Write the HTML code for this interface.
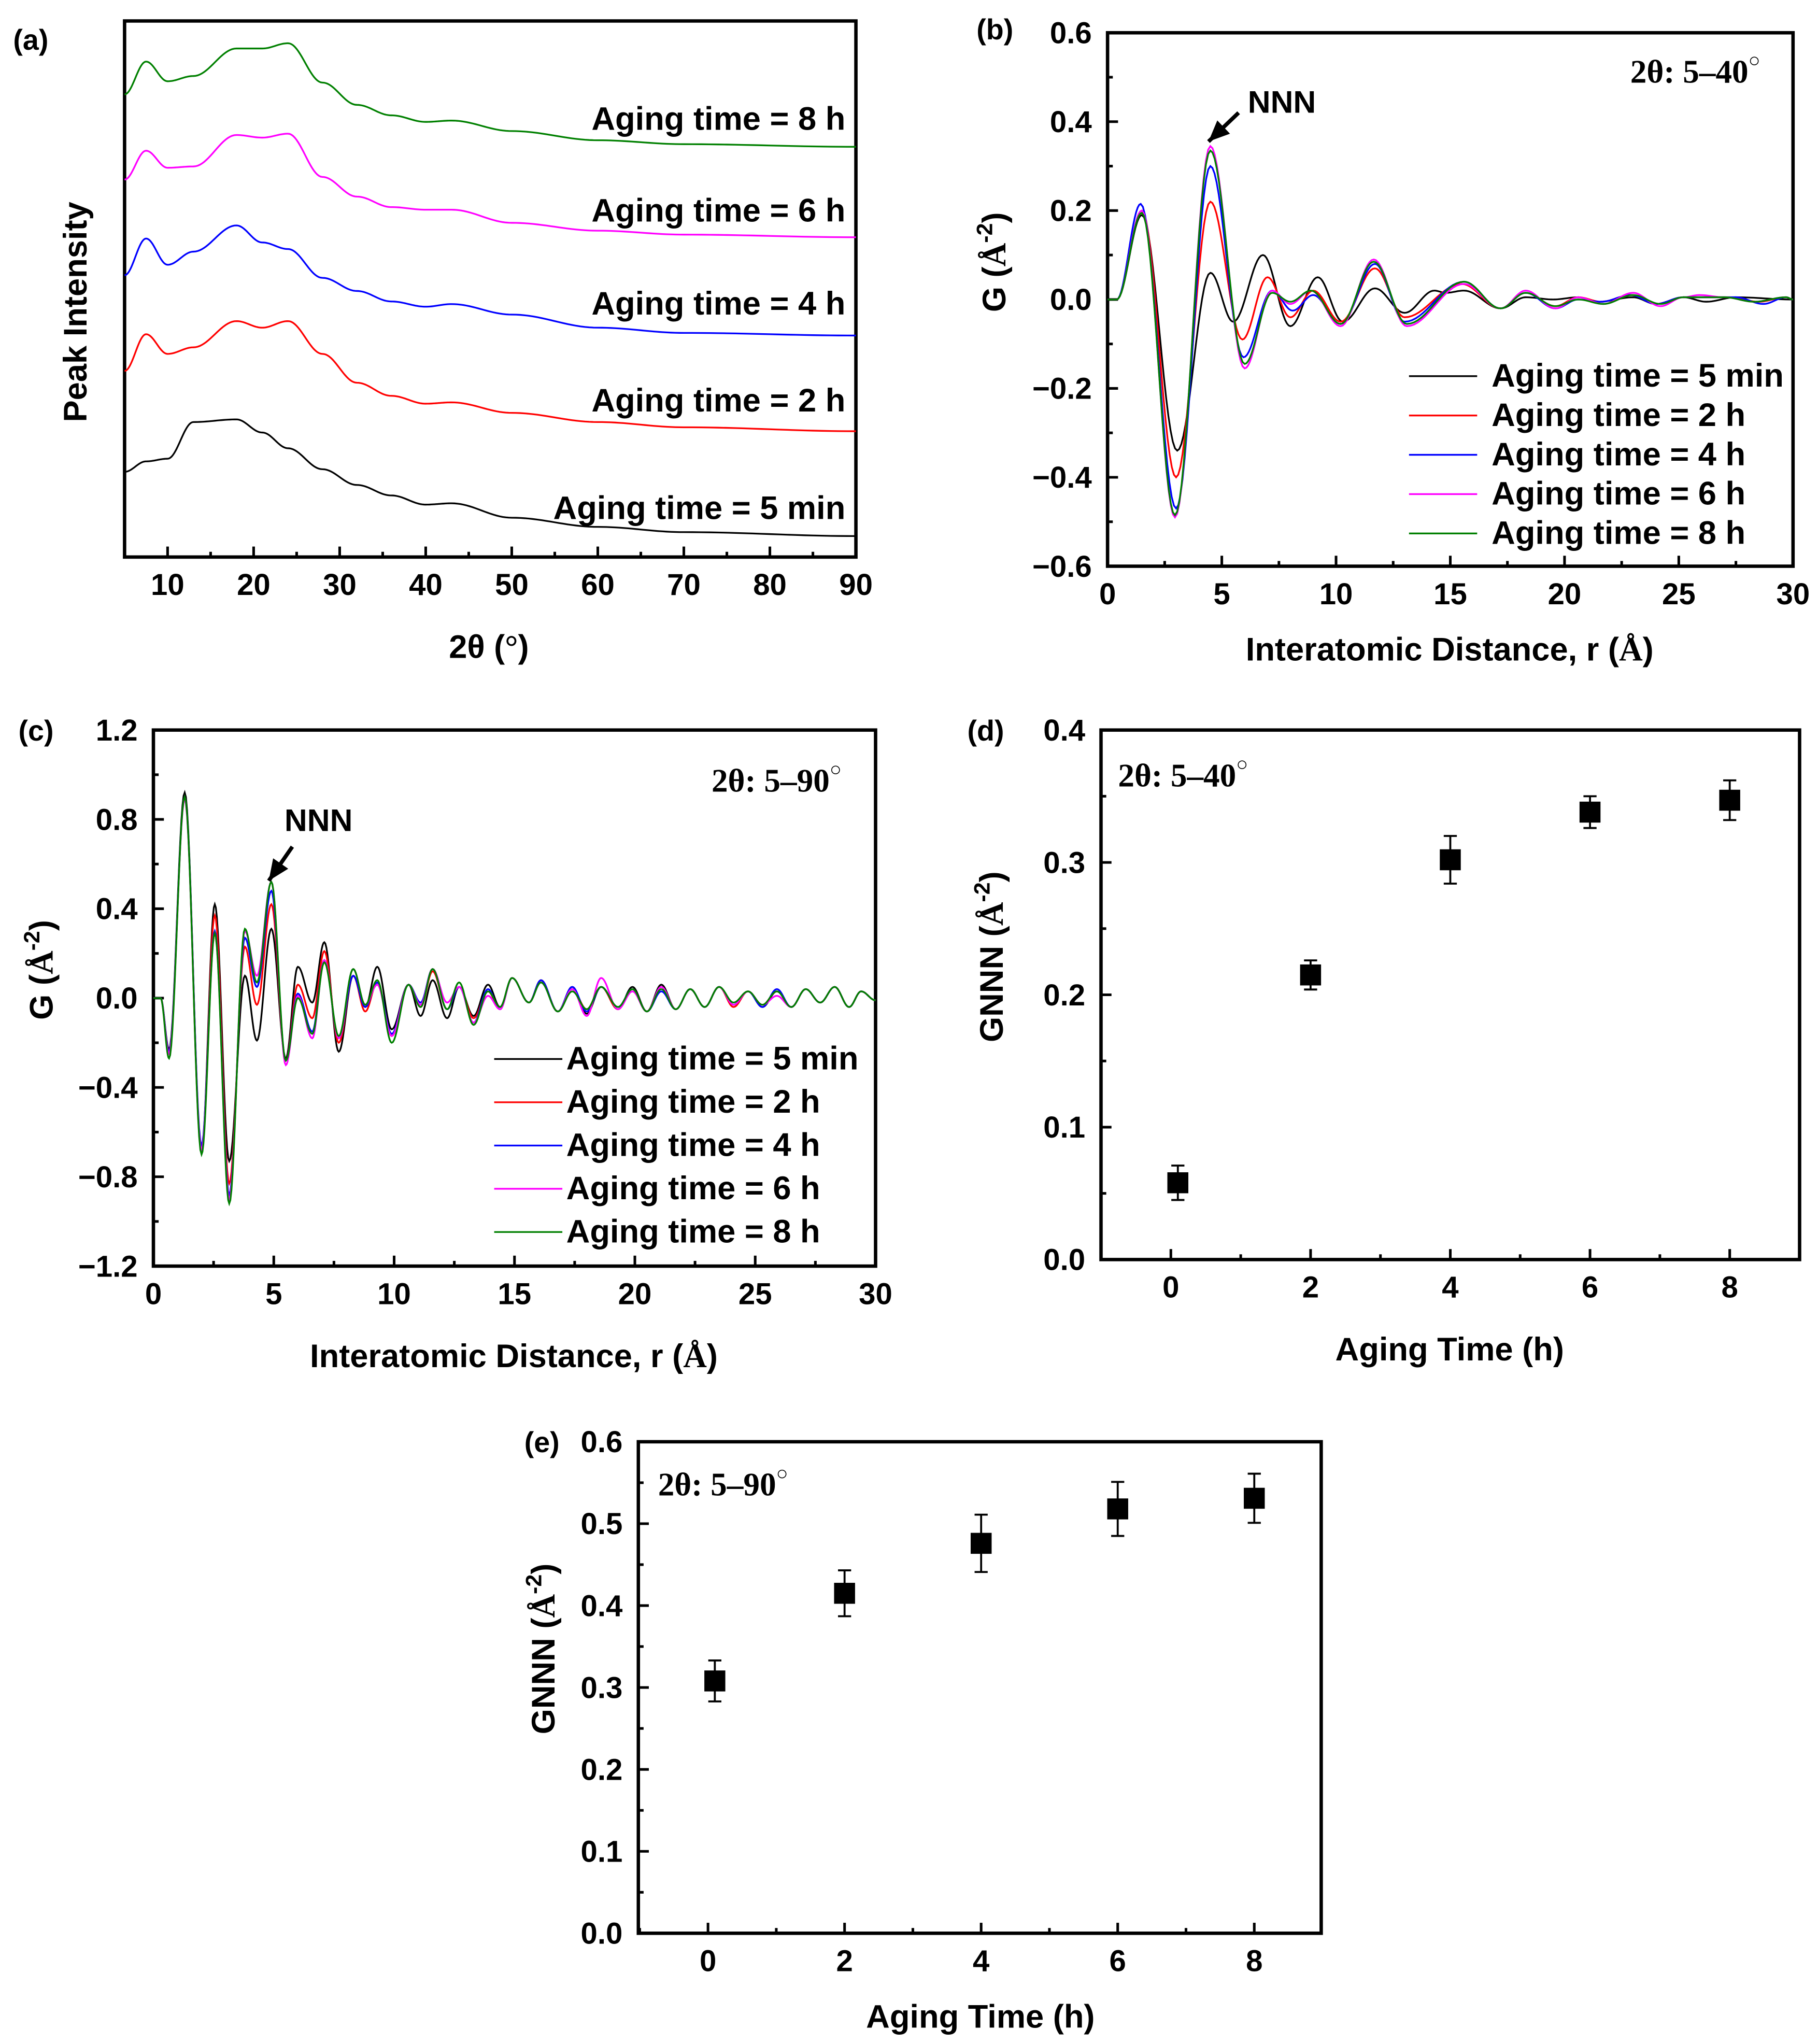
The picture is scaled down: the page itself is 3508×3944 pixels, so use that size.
<!DOCTYPE html>
<html><head><meta charset="utf-8"><style>
html,body{margin:0;padding:0;background:#fff;}
svg{display:block;}
text{font-family:"Liberation Sans",sans-serif;font-weight:bold;fill:#000;}
.serif{font-family:"Liberation Serif",serif;}
</style></head><body>
<svg id="fig" xmlns="http://www.w3.org/2000/svg" width="3508" height="3944" viewBox="0 0 1387 1559.5"></svg>
<script>
// ---------- Panel (a) XRD data ----------
const xrdTheta = [5,7.5,10,13,18,21,24,28,32,36,40,43,50,60,70,90];
const xrd5min = [65,73,75,103,105,95,83,67,55,47,40,41,30,23,19,16];
const xrd2h   = [142,170,155,160,180,175,180,155,133,123,117,118,110,103,99,96];
const xrd4h   = [215,243,223,233,253,240,235,213,203,195,191,193,185,175,171,169];
const xrd6h   = [288,310,297,298,322,320,323,290,275,267,265,265,255,249,246,244];
const xrd8h   = [353,378,363,367,388,388,392,362,345,337,332,333,325,318,315,313];
const xrdLabels = ["Aging time = 5 min","Aging time = 2 h","Aging time = 4 h","Aging time = 6 h","Aging time = 8 h"];
const xTicksA = [10,20,30,40,50,60,70,80,90];

// ---------- Panel (b) PDF 5-40 (extrema) ----------
const bR5min = [0,0.4,1.5,3.05,4.5,5.5,6.8,8.0,9.2,10.3,11.7,13.0,14.3,14.8,15.6,17.2,18.3,19.5,20.6,21.5,23.0,24.0,25.2,26.2,27.5,30];
const bG5min = [0,0,0.19,-0.34,0.06,-0.05,0.10,-0.06,0.05,-0.05,0.025,-0.03,0.02,0.015,0.02,-0.02,0.005,0,0.005,-0.005,0.005,-0.01,0.005,-0.005,0.005,0];
const bR2h = [0,0.4,1.5,3.0,4.5,5.9,7.0,8.0,9.0,10.2,11.7,13.0,15.5,17.2,18.3,19.6,20.6,21.6,22.9,24.0,25.2,26.2,27.2,28.5,29.7,30];
const bG2h = [0,0,0.20,-0.40,0.22,-0.09,0.05,-0.04,0.02,-0.05,0.07,-0.04,0.035,-0.02,0.015,-0.015,0.005,-0.005,0.01,-0.01,0.005,0.005,0.005,-0.005,0.005,0];
const bR4h = [0,0.4,1.45,3.0,4.5,5.95,7.2,8.1,9.0,10.2,11.7,13.0,15.6,17.2,18.3,19.6,20.6,21.6,22.9,24.0,25.2,26.5,27.5,28.7,29.7,30];
const bG4h = [0,0,0.215,-0.47,0.30,-0.13,0.02,-0.025,0.01,-0.055,0.08,-0.05,0.04,-0.02,0.015,-0.02,0.0,-0.005,0.01,-0.01,0.005,0.005,0.005,-0.01,0.005,0];
const bR6h = [0,0.4,1.5,2.95,4.5,6.0,7.2,8.0,8.9,10.2,11.65,13.1,15.6,17.2,18.3,19.6,20.6,21.7,23.0,24.2,25.2,25.9,27.0,28.3,29.7,30];
const bG6h = [0,0,0.20,-0.49,0.345,-0.155,0.02,-0.01,0.02,-0.06,0.09,-0.06,0.035,-0.02,0.02,-0.02,0.005,-0.01,0.015,-0.015,0.005,0.01,0.005,-0.005,0.005,0];
const bR8h = [0,0.4,1.5,2.95,4.5,6.0,7.2,8.0,8.9,10.2,11.65,13.1,15.6,17.2,18.3,19.6,20.6,21.7,23.0,24.2,25.2,25.9,27.0,28.3,29.7,30];
const bG8h = [0,0,0.195,-0.485,0.335,-0.145,0.015,-0.005,0.02,-0.055,0.085,-0.055,0.04,-0.02,0.015,-0.015,0.0,-0.01,0.01,-0.01,0.005,0.005,0.005,-0.005,0.005,0];
const yTicksB = [-0.6,-0.4,-0.2,0.0,0.2,0.4,0.6];
const xTicksPDF = [0,5,10,15,20,25,30];

// ---------- Panel (c) PDF 5-90 (extrema) ----------
const cR = [0,0.3,0.65,1.3,2.0,2.55,3.15,3.8,4.3,4.9,5.5,6.0,6.6,7.1,7.7,8.3,8.8,9.3,9.9,10.6,11.1,11.6,12.2,12.7,13.3,13.9,14.4,14.9,15.6,16.1,16.8,17.4,18.0,18.6,19.3,19.9,20.5,21.1,21.7,22.3,22.9,23.5,24.1,24.7,25.3,25.9,26.5,27.1,27.7,28.3,28.9,29.4,30];
const cG5min = [0,0,-0.23,0.92,-0.68,0.42,-0.73,0.10,-0.19,0.31,-0.27,0.14,-0.02,0.25,-0.24,0.10,-0.04,0.14,-0.14,0.06,-0.08,0.08,-0.09,0.05,-0.08,0.06,-0.04,0.09,-0.02,0.08,-0.06,0.05,-0.07,0.05,-0.05,0.05,-0.06,0.06,-0.05,0.04,-0.04,0.05,-0.03,0.03,-0.04,0.03,-0.04,0.04,-0.02,0.05,-0.04,0.03,-0.01];
const cG2h = [0,0,-0.25,0.90,-0.69,0.37,-0.83,0.23,-0.03,0.42,-0.28,0.06,-0.09,0.21,-0.20,0.10,-0.06,0.07,-0.17,0.06,-0.04,0.12,-0.05,0.05,-0.09,0.03,-0.05,0.09,-0.02,0.08,-0.06,0.04,-0.05,0.05,-0.05,0.04,-0.06,0.05,-0.05,0.04,-0.04,0.05,-0.04,0.03,-0.03,0.03,-0.04,0.04,-0.02,0.05,-0.04,0.03,-0.01];
const cG4h = [0,0,-0.24,0.90,-0.66,0.30,-0.88,0.27,0.05,0.48,-0.28,0.02,-0.15,0.17,-0.18,0.10,-0.04,0.07,-0.16,0.06,-0.02,0.13,-0.05,0.05,-0.11,0.04,-0.05,0.09,-0.02,0.08,-0.06,0.05,-0.06,0.05,-0.04,0.04,-0.06,0.03,-0.05,0.04,-0.04,0.05,-0.03,0.03,-0.04,0.04,-0.04,0.04,-0.02,0.05,-0.04,0.03,-0.01];
const cG6h = [0,0,-0.25,0.89,-0.68,0.29,-0.90,0.30,0.10,0.52,-0.30,0.01,-0.18,0.17,-0.18,0.13,-0.03,0.06,-0.17,0.06,-0.03,0.13,-0.02,0.05,-0.11,0.01,-0.05,0.09,-0.02,0.07,-0.06,0.04,-0.08,0.09,-0.05,0.03,-0.06,0.05,-0.05,0.04,-0.04,0.05,-0.03,0.03,-0.03,0.01,-0.04,0.04,-0.02,0.05,-0.04,0.03,-0.01];
const cG8h = [0,0,-0.27,0.90,-0.70,0.29,-0.92,0.31,0.07,0.52,-0.28,0.00,-0.16,0.16,-0.17,0.13,-0.03,0.08,-0.20,0.06,-0.04,0.13,-0.05,0.07,-0.12,0.03,-0.04,0.09,-0.02,0.07,-0.06,0.03,-0.05,0.05,-0.04,0.04,-0.06,0.04,-0.05,0.04,-0.04,0.05,-0.02,0.03,-0.03,0.03,-0.04,0.04,-0.02,0.05,-0.04,0.03,-0.01];
const yTicksC = [-1.2,-0.8,-0.4,0.0,0.4,0.8,1.2];

// ---------- Panel (d) and (e) GNNN ----------
const agingHours = [0.1,2,4,6,8];
const gnnnD = [0.058,0.215,0.302,0.338,0.347];
const errD = [0.013,0.011,0.018,0.012,0.015];
const gnnnE = [0.308,0.415,0.476,0.518,0.531];
const errE = [0.025,0.028,0.035,0.033,0.03];
const xTicksAging = [0,2,4,6,8];
const yTicksD = [0.0,0.1,0.2,0.3,0.4];
const yTicksE = [0.0,0.1,0.2,0.3,0.4,0.5,0.6];

const colors = ["#000000","#ff0000","#0000ff","#ff00ff","#008000"];
const NS = "http://www.w3.org/2000/svg";
const svg = document.getElementById('fig');

function el(tag, parent){ const e=document.createElementNS(NS,tag); parent.appendChild(e); return e; }
function scale(d0,d1,p0,p1){ return v => p0 + (v-d0)*(p1-p0)/(d1-d0); }
function cosInterp(xs, ys, n){
  const pts=[];
  for(let i=0;i<xs.length-1;i++){
    for(let k=0;k<n;k++){
      const t=k/n, w=(1-Math.cos(Math.PI*t))/2;
      pts.push([xs[i]+(xs[i+1]-xs[i])*t, ys[i]+(ys[i+1]-ys[i])*w]);
    }
  }
  pts.push([xs[xs.length-1], ys[ys.length-1]]);
  return pts;
}
function txt(parent, x, y, s, size, anchor){
  const t=el('text',parent); t.setAttribute('x',x); t.setAttribute('y',y);
  t.setAttribute('font-size',size); t.setAttribute('text-anchor',anchor||'middle');
  t.textContent=s; return t;
}
function fmt(v,d){ const s=Math.abs(v).toFixed(d); return (v<0?'\u2212':'')+s; }

function axes(g, c){
  const sx=scale(c.xmin,c.xmax,c.x0,c.x1), sy=scale(c.ymin,c.ymax,c.y1,c.y0);
  const box=el('rect',g); box.setAttribute('x',c.x0); box.setAttribute('y',c.y0);
  box.setAttribute('width',c.x1-c.x0); box.setAttribute('height',c.y1-c.y0);
  box.setAttribute('fill','none'); box.setAttribute('stroke','#000'); box.setAttribute('stroke-width','2.6');
   
  c.xt.forEach((v,i)=>{
    const x=sx(v);
    const t=el('line',g); t.setAttribute('x1',x); t.setAttribute('x2',x); t.setAttribute('y1',c.y1); t.setAttribute('y2',c.y1-8);
    t.setAttribute('stroke','#000'); t.setAttribute('stroke-width','2');
     
    const lb=txt(g,x,c.y1+29,String(v),23);
     
    if(i<c.xt.length-1){
      const mx=sx((v+c.xt[i+1])/2);
      const m=el('line',g); m.setAttribute('x1',mx); m.setAttribute('x2',mx); m.setAttribute('y1',c.y1); m.setAttribute('y2',c.y1-4);
      m.setAttribute('stroke','#000'); m.setAttribute('stroke-width','2');
       
    }
  });
  if(c.xminorStart!==undefined){
    const mx=sx(c.xminorStart);
    const m=el('line',g); m.setAttribute('x1',mx); m.setAttribute('x2',mx); m.setAttribute('y1',c.y1); m.setAttribute('y2',c.y1-4);
    m.setAttribute('stroke','#000'); m.setAttribute('stroke-width','2');
     
  }
  if(c.yt){
    c.yt.forEach((v,i)=>{
      const y=sy(v);
      const t=el('line',g); t.setAttribute('x1',c.x0); t.setAttribute('x2',c.x0+8); t.setAttribute('y1',y); t.setAttribute('y2',y);
      t.setAttribute('stroke','#000'); t.setAttribute('stroke-width','2');
       
      const lb=txt(g,c.x0-12,y+8,fmt(v,1),23,'end');
       
      if(i<c.yt.length-1){
        const my=sy((v+c.yt[i+1])/2);
        const m=el('line',g); m.setAttribute('x1',c.x0); m.setAttribute('x2',c.x0+4); m.setAttribute('y1',my); m.setAttribute('y2',my);
        m.setAttribute('stroke','#000'); m.setAttribute('stroke-width','2');
         
      }
    });
  }
  return {sx,sy};
}
function polyline(g, pts, sx, sy, color, name){
  const p=el('polyline',g);
  p.setAttribute('points', pts.map(q=>sx(q[0]).toFixed(2)+','+sy(q[1]).toFixed(2)).join(' '));
  p.setAttribute('fill','none'); p.setAttribute('stroke',color); p.setAttribute('stroke-width','1.3');
   
}
function ylabelG(g, x, y){
  const t=el('text',g); t.setAttribute('transform','translate('+x+','+y+') rotate(-90)');
  t.setAttribute('font-size',25); t.setAttribute('text-anchor','middle');
   
  return t;
}
function addSpan(t, s, cls, dy, size){
  const sp=el('tspan',t); sp.textContent=s; if(cls) sp.setAttribute('class',cls);
  if(dy) sp.setAttribute('dy',dy); if(size) sp.setAttribute('font-size',size); return sp;
}
function gLabel(g,t,prefix){
  addSpan(t,prefix+' (');
  addSpan(t,'Å','serif');
  addSpan(t,'-2',null,-10,17);
  addSpan(t,')',null,10);
}
function legend(g, x, y0, dy, labels, gap){
  labels.forEach((s,i)=>{
    const y=y0+dy*i;
    const l=el('line',g); l.setAttribute('x1',x); l.setAttribute('x2',x+52); l.setAttribute('y1',y-8); l.setAttribute('y2',y-8);
    l.setAttribute('stroke',colors[i]); l.setAttribute('stroke-width','1.3');
     
    const t=txt(g,x+gap,y,s,25,'start');
     
  });
}
function rangeLabel(g,x,y,s,anchor){
  const t=el('text',g); t.setAttribute('x',x); t.setAttribute('y',y); t.setAttribute('font-size',25);
  t.setAttribute('text-anchor',anchor); t.setAttribute('class','serif');
   
  addSpan(t,s); addSpan(t,'○',null,-12,15);
}
function arrow(g,x1,y1,x2,y2){
  const l=el('line',g); l.setAttribute('x1',x1); l.setAttribute('y1',y1); l.setAttribute('x2',x2); l.setAttribute('y2',y2);
  l.setAttribute('stroke','#000'); l.setAttribute('stroke-width','3');
   
  const a=Math.atan2(y2-y1,x2-x1), L=16, W=7;
  const bx=x2-L*Math.cos(a), by=y2-L*Math.sin(a);
  const h=el('polygon',g);
  h.setAttribute('points',[x2+','+y2,(bx+W*Math.sin(a))+','+(by-W*Math.cos(a)),(bx-W*Math.sin(a))+','+(by+W*Math.cos(a))].join(' '));
  h.setAttribute('fill','#000');
   
}
function panelLabel(s,x,y){
  const t=txt(svg,x,y,s,22,'start');
   
}

// ===== Panel (a) =====
{
  const g=el('g',svg);  
  const {sx,sy}=axes(g,{x0:95,x1:653,y0:16,y1:425,xmin:5,xmax:90,ymin:0,ymax:409,xt:xTicksA,xminorStart:5});
  const series=[xrd5min,xrd2h,xrd4h,xrd6h,xrd8h];
  series.forEach((s,i)=>polyline(g,cosInterp(xrdTheta,s,20),sx,sy,colors[i],'xrd-curve-'+i));
  const ly=[396,314,240,169,99];
  xrdLabels.forEach((s,i)=>{ const t=txt(g,645,ly[i],s,25,'end');   });
  const xl=el('text',g); xl.setAttribute('x',373); xl.setAttribute('y',502); xl.setAttribute('font-size',25); xl.setAttribute('text-anchor','middle');
   
  addSpan(xl,'2θ ('); addSpan(xl,'°','serif'); addSpan(xl,')');
  const yl=ylabelG(g,66,238); yl.textContent='Peak Intensity';
}
// ===== Panel (b) =====
{
  const g=el('g',svg);  
  const {sx,sy}=axes(g,{x0:845,x1:1368,y0:25,y1:432,xmin:0,xmax:30,ymin:-0.6,ymax:0.6,xt:xTicksPDF,yt:yTicksB});
  const R=[bR5min,bR2h,bR4h,bR6h,bR8h], G=[bG5min,bG2h,bG4h,bG6h,bG8h];
  R.forEach((r,i)=>polyline(g,cosInterp(r,G[i],16),sx,sy,colors[i],'pdf-b-curve-'+i));
  legend(g,1075,295,30,xrdLabels,63);
  const n=txt(g,978,86,'NNN',24);  
  arrow(g,945,86,922,108);
  rangeLabel(g,1343,63,'2θ: 5–40','end');
  const xl=el('text',g); xl.setAttribute('x',1106); xl.setAttribute('y',504); xl.setAttribute('font-size',25); xl.setAttribute('text-anchor','middle');
   
  addSpan(xl,'Interatomic Distance, r ('); addSpan(xl,'Å','serif'); addSpan(xl,')');
  const yl=ylabelG(g,767,200); gLabel(g,yl,'G');
}
// ===== Panel (c) =====
{
  const g=el('g',svg);  
  const {sx,sy}=axes(g,{x0:117,x1:668,y0:557,y1:966,xmin:0,xmax:30,ymin:-1.2,ymax:1.2,xt:xTicksPDF,yt:yTicksC});
  [cG5min,cG2h,cG4h,cG6h,cG8h].forEach((s,i)=>polyline(g,cosInterp(cR,s,14),sx,sy,colors[i],'pdf-c-curve-'+i));
  legend(g,377,816,33,xrdLabels,55);
  const n=txt(g,243,634,'NNN',24);  
  arrow(g,223,646,205,672);
  rangeLabel(g,642,604,'2θ: 5–90','end');
  const xl=el('text',g); xl.setAttribute('x',392); xl.setAttribute('y',1043); xl.setAttribute('font-size',25); xl.setAttribute('text-anchor','middle');
   
  addSpan(xl,'Interatomic Distance, r ('); addSpan(xl,'Å','serif'); addSpan(xl,')');
  const yl=ylabelG(g,40,740); gLabel(g,yl,'G');
}
// ===== GNNN scatter panels =====
function scatter(g, c, vals, errs, name){
  const {sx,sy}=axes(g,c);
  agingHours.forEach((h,i)=>{
    const x=sx(h), y=sy(vals[i]);
    const e=el('line',g); e.setAttribute('x1',x); e.setAttribute('x2',x); e.setAttribute('y1',sy(vals[i]-errs[i])); e.setAttribute('y2',sy(vals[i]+errs[i]));
    e.setAttribute('stroke','#000'); e.setAttribute('stroke-width','1.5');
     
    [vals[i]-errs[i],vals[i]+errs[i]].forEach(v=>{
      const cap=el('line',g); cap.setAttribute('x1',x-5); cap.setAttribute('x2',x+5); cap.setAttribute('y1',sy(v)); cap.setAttribute('y2',sy(v));
      cap.setAttribute('stroke','#000'); cap.setAttribute('stroke-width','1.5');
       
    });
    const r=el('rect',g); r.setAttribute('x',x-8); r.setAttribute('y',y-8); r.setAttribute('width',16); r.setAttribute('height',16); r.setAttribute('fill','#000');
     
  });
}
{
  const g=el('g',svg);  
  scatter(g,{x0:840,x1:1373,y0:557,y1:961,xmin:-1,xmax:9,ymin:0,ymax:0.4,xt:xTicksAging,xminorStart:-1,yt:yTicksD},gnnnD,errD,'gnnn-d');
  rangeLabel(g,853,600,'2θ: 5–40','start');
  const xl=txt(g,1106,1038,'Aging Time (h)',25);  
  const yl=ylabelG(g,765,730); gLabel(g,yl,'GNNN');
}
{
  const g=el('g',svg);  
  scatter(g,{x0:487,x1:1008,y0:1100,y1:1475,xmin:-1.02,xmax:8.98,ymin:0,ymax:0.6,xt:xTicksAging,xminorStart:-1,yt:yTicksE},gnnnE,errE,'gnnn-e');
  rangeLabel(g,502,1141,'2θ: 5–90','start');
  const xl=txt(g,748,1547,'Aging Time (h)',25);  
  const yl=ylabelG(g,423,1258); gLabel(g,yl,'GNNN');
}
panelLabel('(a)',10,38);
panelLabel('(b)',745,30);
panelLabel('(c)',14,565);
panelLabel('(d)',738,565);
panelLabel('(e)',400,1108);
</script>
</body></html>
